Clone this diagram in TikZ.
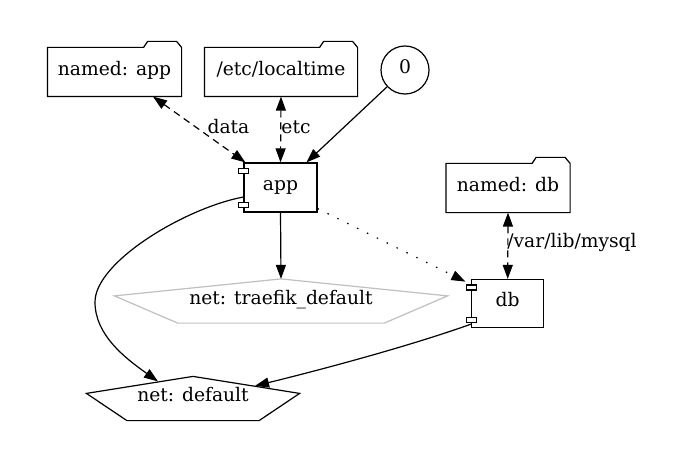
\documentclass[tikz,border=0pt]{standalone}
\usepackage{fontspec}
\setmainfont{DejaVu Serif}
\usetikzlibrary{arrows.meta,calc}

\tikzset{
  every node/.style={text height=.8em, text depth=.19em, inner sep=0pt},
  folder/.style={minimum height=48pt},
  service/.style={draw, minimum width=73pt, minimum height=49pt},
  net/.style={minimum height=43pt},
  link/.style={-{Triangle[length=14pt,width=10pt]}},
  mount/.style={{Triangle[length=14pt,width=10pt]}-{Triangle[length=14pt,width=10pt]},
    dash pattern=on 7pt off 5pt},
}

% folder outline with its tab
\newcommand{\foldershape}[1]{%
  \draw (#1.south west) -- (#1.north west) -- ([xshift=-38pt]#1.north east)
    -- ++(4,-6) -- ++(29,0) -- (#1.north east) -- (#1.south east) -- cycle;}
% the two little ports of a service box
\newcommand{\ports}[1]{%
  \draw[fill=white] ([shift={(-5,6)}]#1.north west) rectangle ++(10,5);
  \draw[fill=white] ([shift={(-5,-10.5)}]#1.south west) rectangle ++(10,5);}
% pentagon of a network
\newcommand{\netshape}[2]{%
  \draw[#2] (#1.north) -- ([yshift=-17pt]#1.north west)
    -- ($(#1.south west)!.19!(#1.south east)$) -- ($(#1.south east)!.19!(#1.south west)$)
    -- ([yshift=-17pt]#1.north east) -- cycle;}

\begin{document}
\begin{tikzpicture}[x=1pt, y=-1pt, line width=1.2pt, font=\fontsize{18.7}{22}\selectfont]
  \useasboundingbox (0,0) rectangle (687,473);
  \node[folder, minimum width=133pt] at (114.5,72) (napp) {named: app};
  \node[folder, minimum width=152pt] at (281,72) (etc) {/etc/localtime};
  \node[draw, circle, minimum size=48pt] at (405,70) (zero) {0};
  \node[service] at (280.5,187.5) (app) {app};
  \node[folder, minimum width=123pt] at (508,188) (ndb) {named: db};
  \node[service, minimum width=72pt, minimum height=48pt] at (507.7,303.5) (db) {db};
  \node[net, minimum width=332pt] at (281,301) (traefik) {net: traefik\_default};
  \node[net, minimum width=212pt] at (193,398.5) (default) {net: default};
  \foldershape{napp}
  \foldershape{etc}
  \foldershape{ndb}
  \ports{app}
  \ports{db}
  \netshape{traefik}{black!25}
  \netshape{default}{black}

  \node at (228.5,130) (ldata) {data};
  \node at (296,130) (letc) {etc};
  \node at (572,244) (lmysql) {/var/lib/mysql};

  \draw[mount] ([xshift=38.5pt]napp.south) -- ([xshift=2pt]app.north west);
  \draw[mount] (etc.south) -- (app.north);
  \draw[link] (zero) -- ([xshift=26pt]app.north);
  \draw[link] (app.south) -- (traefik.north);
  \draw[link, dash pattern=on 1.5pt off 9.5pt] ([yshift=4pt]app.south east)
    -- ([xshift=-5.7pt,yshift=-2.7pt]db.north west);
  \draw[mount] (ndb.south) -- (db.north);
  \draw[link] ([yshift=-9.5pt]app.west) .. controls (185,208) and (95,262) .. (95,302)
    .. controls (95,335) and (125,358) .. ([xshift=-35pt,yshift=-5pt]default.north);
  \draw[link] ([yshift=4pt]db.south west) .. controls (410,346) and (320,370)
    .. ([xshift=62pt,yshift=-9.5pt]default.north);
\end{tikzpicture}
\end{document}
